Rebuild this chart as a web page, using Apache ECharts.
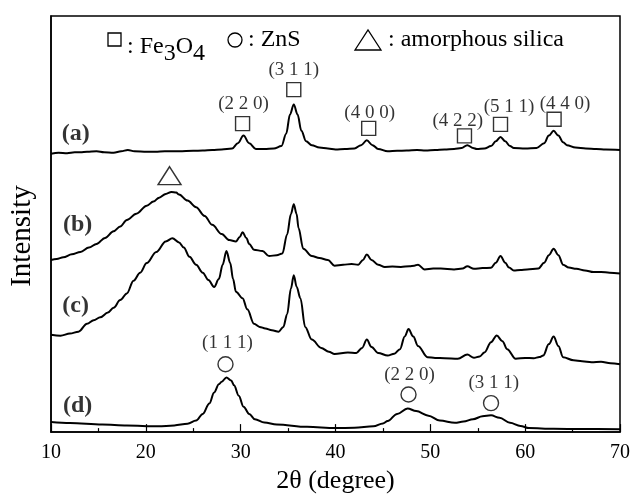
<!DOCTYPE html>
<html><head><meta charset="utf-8">
<script src="https://cdn.jsdelivr.net/npm/echarts@6/dist/echarts.min.js"></script>
<style>html,body{margin:0;padding:0;background:#fff}#c{width:633px;height:499px}</style>
</head><body><div id="c"></div>
<script>
// 2θ (degree) values and intensities (arbitrary units, curves vertically offset as in the figure)
const curveA = [[10.0,291],[10.8,292],[11.7,291.5],[12.5,292.5],[13.1,292.5],[13.8,293],[14.8,293.5],[15.6,292.5],[16.6,292],[17.4,293.5],[18.1,295],[18.8,293.5],[20.1,293],[21.0,293],[22.0,293.5],[23.5,293.5],[25.0,294],[26.0,294.5],[27.0,295],[28.0,295.5],[29.1,296.5],[29.7,302],[30.3,310],[30.9,302],[31.6,296],[32.5,296],[33.5,296.5],[34.3,299],[34.8,312],[35.2,332],[35.6,342.5],[36.0,332],[36.4,315],[36.9,304],[37.5,300],[38.3,297.5],[39.2,296.5],[40.0,295.5],[41.0,296],[42.0,296.5],[42.7,300],[43.3,305],[43.9,300],[44.5,296],[45.5,293.5],[46.5,294],[47.5,294.5],[48.6,295],[49.5,294.5],[50.5,295],[51.5,295.5],[52.5,296],[53.3,297],[53.9,300],[54.5,297],[54.9,296],[55.7,296.5],[56.4,299],[56.9,304],[57.4,308.5],[57.9,304],[58.4,299],[58.8,297],[60.0,296.5],[61.2,297],[62.0,302],[62.5,310],[63.0,315],[63.5,310],[64.0,303],[64.4,300],[65.3,297.5],[66.4,296.5],[67.5,296],[68.5,295.5],[70.0,295]];
const curveB = [[10.0,180],[10.6,181],[11.3,182.7],[12.2,186],[13.1,188.3],[14.0,193],[14.8,196.7],[15.7,203],[16.6,210],[17.3,215],[18.0,221.7],[19.0,228.3],[20.1,236.7],[20.8,241],[21.4,245],[22.1,249],[22.7,251],[23.2,250.5],[23.5,248.3],[24.4,242],[25.3,235],[26.2,226],[27.0,216.7],[28.0,207],[28.8,200.7],[29.5,199.3],[29.9,204],[30.2,209],[30.6,203],[30.9,196.7],[31.4,190.7],[32.3,189.3],[33.0,184],[33.8,185],[34.4,186.7],[34.9,206.7],[35.3,228],[35.6,238.3],[35.9,228],[36.1,213.3],[36.6,191.7],[37.5,184],[38.3,182],[39.2,180],[39.9,174],[40.8,175],[41.7,175.7],[42.4,175],[42.9,180],[43.3,185.7],[43.8,180],[44.5,175],[45.2,172.7],[46.0,173],[46.9,172.7],[47.8,173.5],[48.3,174],[48.7,175],[49.4,170],[50.3,171],[51.1,171],[52.5,170],[53.4,171],[53.9,173.3],[54.6,170.7],[55.5,171.5],[56.4,171.7],[56.9,177],[57.4,184],[57.9,177],[58.3,172],[58.8,169],[59.5,169.5],[60.2,170],[61.4,171],[62.0,177],[62.5,185],[63.0,191.7],[63.5,185],[64.0,175],[64.6,172],[65.4,170.7],[66.3,169],[67.2,167.3],[68.0,167.5],[68.9,166.7],[70.0,165.7]];
const curveC = [[10.0,101.7],[11.0,100.7],[12.0,103],[12.9,105],[13.8,113.3],[14.5,117],[15.2,120],[16.0,125],[16.6,130],[17.3,138],[18.0,145],[18.7,158.3],[19.4,166.7],[20.1,176.7],[21.1,188.3],[22.1,199.3],[22.8,202.7],[23.5,198.3],[24.0,193],[24.6,183.3],[25.3,175],[26.0,166.7],[26.6,159],[27.2,151.7],[27.7,160],[28.1,175],[28.5,189.3],[28.9,176.7],[29.2,160],[29.5,146.7],[30.2,140],[30.7,128.3],[31.4,113.3],[32.0,110],[32.6,108.3],[33.3,106.5],[34.0,105],[34.5,110],[34.9,123.3],[35.3,150],[35.6,164],[35.9,152],[36.3,140],[36.8,110],[37.5,96.7],[38.5,88],[39.3,84],[39.9,81.7],[41.3,83.3],[42.2,82.7],[42.8,88],[43.3,96.7],[43.8,89],[44.5,82.7],[45.5,80],[46.2,82],[46.8,86.7],[47.3,100],[47.7,107.7],[48.2,100],[48.7,90],[49.7,78.3],[50.5,77.5],[51.5,77.3],[52.9,76.7],[53.9,81],[54.6,77.7],[55.2,79],[55.7,83.3],[56.4,94],[57.0,101],[57.6,95],[58.1,86.7],[59.0,76.7],[60.0,77.5],[60.9,77.3],[61.5,78.5],[61.9,80],[62.5,92],[63.0,100],[63.5,90],[64.0,78.3],[65.1,75],[66.0,74],[67.0,73],[68.0,73.5],[69.0,72],[70.0,71]];
const curveD = [[10.0,10.5],[12.0,9.5],[15.4,8],[18.0,7],[21.3,6],[23.0,7],[24.4,8.7],[25.3,12],[26.0,19],[26.7,30],[27.2,41.5],[27.7,50],[28.0,52.7],[28.5,57.2],[29.0,54],[29.3,49],[29.8,38],[30.3,26.6],[30.9,19],[31.5,13.5],[32.5,10],[33.8,8],[37.0,5.5],[40.0,4.2],[42.0,4.5],[44.0,6],[45.0,9],[45.5,11.6],[46.5,19],[47.6,24.7],[48.5,22],[49.8,17.2],[51.0,12],[52.6,9.8],[53.5,11],[54.5,13.5],[55.5,16.5],[56.4,17.5],[57.3,15],[58.4,9.8],[59.5,6.5],[60.4,4.2],[63.0,3.5],[66.0,3.2],[70.0,3]];

// Fe3O4 reflections (squares) on curve (a)
const feHkl = ['(2 2 0)','(3 1 1)','(4 0 0)','(4 2 2)','(5 1 1)','(4 4 0)'];
const feSquareDeg = [30.2, 35.6, 43.5, 53.6, 57.4, 63.05];
const feSquareH = [322.5, 358, 317.5, 309.7, 321.7, 327];
const feLabelDeg = [30.3, 35.6, 43.6, 52.9, 58.3, 64.2];
const feLabelH = [343.3, 379, 333.3, 325, 340, 343.3];
// ZnS reflections (circles) on curve (d)
const znsHkl = ['(1 1 1)','(2 2 0)','(3 1 1)'];
const znsCircleDeg = [28.4, 47.7, 56.4];
const znsCircleH = [71, 39.3, 30.3];
const znsLabelDeg = [28.6, 47.8, 56.7];
const znsLabelH = [93, 60, 51];
// amorphous silica (triangle) on curve (b)
const silicaDeg = [22.5];
const silicaH = [268];
// panel letters
const panelNames = ['(a)','(b)','(c)','(d)'];
const panelDeg = [12.6, 12.8, 12.6, 12.8];
const panelH = [312, 217, 132, 28];
// x ticks
const xMin = 10, xMax = 70, xStep = 10;

const FONT = 'Liberation Serif';
const zip = (a, b) => a.map((v, i) => [v, b[i]]);
const lineSeries = d => ({type:'line', data:d, symbol:'none', smooth:0.35, smoothMonotone:'x',
  lineStyle:{color:'#000', width:2}, silent:true, z:3});
const hollow = {color:'rgba(0,0,0,0)', borderColor:'#000', borderWidth:1.4};
const textPts = (deg, h, names, style) => ({type:'scatter', symbolSize:0, silent:true, z:5,
  data: deg.map((d,i)=>({value:[d,h[i]], name:names[i]})),
  label:Object.assign({show:true, position:'inside', formatter:p=>p.name, color:'#000', fontFamily:FONT}, style)});

const chart = echarts.init(document.getElementById('c'), null, {renderer:'canvas'});
chart.setOption({
  animation:false,
  backgroundColor:'#fff',
  grid:{left:49, right:11, top:16, bottom:48, show:true, borderColor:'#000', borderWidth:1.5},
  xAxis:{type:'value', min:xMin, max:xMax, interval:xStep,
    name:'2θ (degree)', nameLocation:'middle', nameGap:34,
    nameTextStyle:{fontFamily:FONT, fontSize:26, color:'#000'},
    axisLine:{lineStyle:{color:'#000', width:1.5}},
    axisTick:{inside:true, length:8, lineStyle:{color:'#000', width:1.2}},
    minorTick:{show:true, splitNumber:2, length:4, lineStyle:{color:'#000', width:1.2}},
    axisLabel:{fontFamily:FONT, fontSize:20, color:'#000', margin:11},
    splitLine:{show:false}},
  yAxis:{type:'value', min:0, max:435,
    name:'Intensity', nameLocation:'middle', nameGap:14,
    nameTextStyle:{fontFamily:FONT, fontSize:29, color:'#000', padding:[0,24,0,0]},
    axisLine:{show:true, lineStyle:{color:'#000', width:1.5}},
    axisTick:{show:false}, axisLabel:{show:false}, splitLine:{show:false}},
  graphic:[
    {type:'rect', shape:{x:108, y:33, width:13, height:13}, style:{fill:'none', stroke:'#000', lineWidth:1.3}},
    {type:'text', x:127, y:28, style:{text:': Fe{s|3}O{s|4}', fontFamily:FONT, fontSize:24, fill:'#000',
      rich:{s:{fontFamily:FONT, fontSize:24, lineHeight:38, verticalAlign:'bottom'}}}},
    {type:'circle', shape:{cx:235, cy:40, r:7}, style:{fill:'none', stroke:'#000', lineWidth:1.3}},
    {type:'text', x:248, y:28, style:{text:': ZnS', fontFamily:FONT, fontSize:24, fill:'#000'}},
    {type:'polygon', shape:{points:[[355,50],[381,50],[368,30]]}, style:{fill:'none', stroke:'#000', lineWidth:1.3}},
    {type:'text', x:388, y:28, style:{text:': amorphous silica', fontFamily:FONT, fontSize:24, fill:'#000'}}
  ],
  series:[
    lineSeries(curveA), lineSeries(curveB), lineSeries(curveC), lineSeries(curveD),
    {type:'scatter', symbol:'rect', symbolSize:14, itemStyle:hollow, silent:true, z:4, data:zip(feSquareDeg, feSquareH)},
    {type:'scatter', symbol:'circle', symbolSize:15, itemStyle:hollow, silent:true, z:4, data:zip(znsCircleDeg, znsCircleH)},
    {type:'scatter', symbol:'triangle', symbolSize:[23,18], itemStyle:hollow, silent:true, z:4, data:zip(silicaDeg, silicaH)},
    textPts(feLabelDeg, feLabelH, feHkl, {fontSize:19}),
    textPts(znsLabelDeg, znsLabelH, znsHkl, {fontSize:19}),
    textPts(panelDeg, panelH, panelNames, {fontSize:24, fontWeight:'bold'})
  ]
});
</script></body></html>
